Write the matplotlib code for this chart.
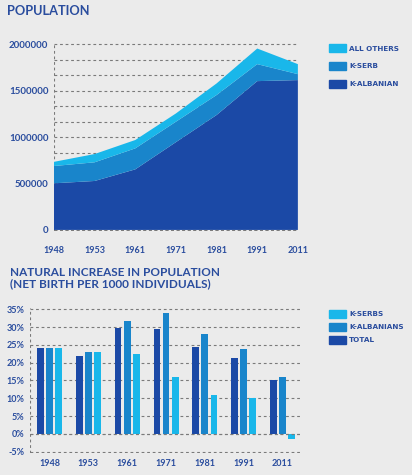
import matplotlib.pyplot as plt
import numpy as np

years = ['1948', '1953', '1961', '1971', '1981', '1991', '2011']

# population (stacked area)
pop_albanian = [502000, 527000, 652000, 945000, 1237000, 1602000, 1613000]
pop_serb = [186000, 201000, 226000, 220000, 215000, 183000, 64000]
pop_others = [45000, 89000, 90000, 89000, 125000, 168000, 108000]

# natural increase, per 1000
inc_total = [24.0, 21.9, 29.7, 29.4, 24.4, 21.4, 15.1]
inc_albanians = [24.0, 22.9, 31.8, 33.9, 28.0, 23.9, 15.9]
inc_serbs = [24.2, 22.9, 22.4, 15.9, 10.9, 10.2, -1.4]

c_dark = '#1b49a6'
c_mid = '#1985cb'
c_light = '#19b7ea'
c_text = '#2a4d9e'
c_bg = '#ebebeb'
c_grid = '#7a7a7a'
dash = (0, (2.5, 2.5))

plt.rcParams['font.family'] = ['Lato', 'DejaVu Sans']
plt.rcParams['font.weight'] = 'bold'
leg_font = {'family': 'DejaVu Sans', 'weight': 'bold', 'size': 5.2}

fig = plt.figure(figsize=(4.12, 4.75), dpi=100)
fig.patch.set_facecolor(c_bg)

# ---- population ----
ax1 = fig.add_axes([0.131, 0.514, 0.592, 0.395])
ax1.set_facecolor(c_bg)
x = np.arange(len(years))
ax1.stackplot(x, pop_albanian, pop_serb, pop_others,
              colors=[c_dark, c_mid, c_light], zorder=1)
ax1.set_xlim(0, len(years) - 1)
ax1.set_ylim(-10000, 2010000)
ax1.set_yticks([0, 500000, 1000000, 1500000, 2000000])
ax1.set_yticklabels(['0', '500000', '1000000', '1500000', '2000000'])
ax1.set_yticks(np.arange(0, 2000001, 500000 / 3), minor=True)
ax1.yaxis.grid(True, which='both', linestyle=dash, color=c_grid, linewidth=0.8, zorder=0)
ax1.set_axisbelow(True)
ax1.axvline(0, linestyle=dash, color=c_grid, linewidth=0.8, zorder=0)
ax1.axhline(0, linestyle=dash, color=c_grid, linewidth=0.8, zorder=3)
ax1.set_xticks(x)
ax1.set_xticklabels(years)
for s in ax1.spines.values():
    s.set_visible(False)
ax1.tick_params(length=0, labelsize=6.5, labelcolor=c_text, pad=4)
ax1.tick_params(axis='y', labelsize=7)
ax1.tick_params(axis='x', pad=11)
ax1.tick_params(which='minor', length=0)
fig.text(0.017, 0.976, 'POPULATION', fontsize=9.2, color=c_text, fontweight='bold', va='center')

h1 = [plt.Rectangle((0, 0), 1, 1, color=c) for c in [c_light, c_mid, c_dark]]
fig.legend(h1, ['ALL OTHERS', 'K-SERB', 'K-ALBANIAN'], loc='upper left',
           bbox_to_anchor=(0.79, 0.914), frameon=False, prop=leg_font,
           handlelength=2.4, handleheight=1.3, labelspacing=1.35, handletextpad=0.4,
           labelcolor=c_text, borderpad=0)

# ---- natural increase ----
ax2 = fig.add_axes([0.073, 0.046, 0.66, 0.306])
ax2.set_facecolor(c_bg)
w = 0.175
step = 0.235
ax2.bar(x - step, inc_total, w, color=c_dark, zorder=2)
ax2.bar(x, inc_albanians, w, color=c_mid, zorder=2)
ax2.bar(x + step, inc_serbs, w, color=c_light, zorder=2)
ax2.set_xlim(-0.5, len(years) - 0.5)
ax2.set_ylim(-5.4, 35.4)
ax2.set_yticks(np.arange(-5, 36, 5))
ax2.set_yticklabels([f'{v}%' for v in range(-5, 36, 5)])
ax2.yaxis.grid(True, linestyle=dash, color=c_grid, linewidth=0.8, zorder=0)
ax2.set_axisbelow(True)
ax2.axhline(0, linestyle=dash, color=c_grid, linewidth=0.8, zorder=3)
ax2.axvline(-0.5, linestyle=dash, color=c_grid, linewidth=0.8, zorder=0)
ax2.set_xticks(x)
ax2.set_xticklabels(years)
for s in ax2.spines.values():
    s.set_visible(False)
ax2.tick_params(length=0, labelsize=6.5, labelcolor=c_text, pad=4)
fig.text(0.024, 0.415, 'NATURAL INCREASE IN POPULATION\n(NET BIRTH PER 1000 INDIVIDUALS)',
         fontsize=8.5, color=c_text, fontweight='bold', va='center', linespacing=1.05)

h2 = [plt.Rectangle((0, 0), 1, 1, color=c) for c in [c_light, c_mid, c_dark]]
fig.legend(h2, ['K-SERBS', 'K-ALBANIANS', 'TOTAL'], loc='upper left',
           bbox_to_anchor=(0.79, 0.355), frameon=False, prop=leg_font,
           handlelength=2.4, handleheight=1.3, labelspacing=0.7, handletextpad=0.4,
           labelcolor=c_text, borderpad=0)

fig.savefig('out.png', dpi=100, facecolor=c_bg)
